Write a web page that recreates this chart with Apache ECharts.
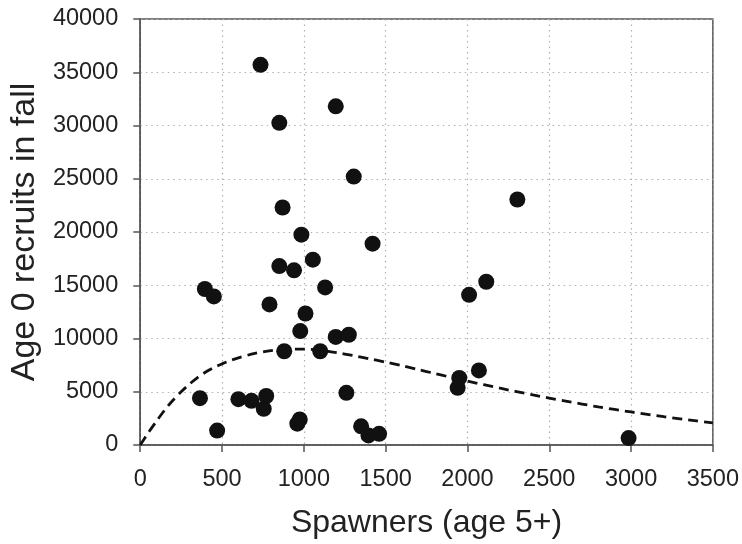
<!DOCTYPE html>
<html>
<head>
<meta charset="utf-8">
<script src="https://cdn.jsdelivr.net/npm/echarts@6/dist/echarts.min.js"></script>
<style>html,body{margin:0;padding:0;background:#fff;}#c{width:742px;height:544px;}</style>
</head>
<body>
<div id="c"></div>
<script>
// Observed data (spawners, recruits)
const spawners = [735, 1195, 850, 1305, 870, 985, 1420, 1055, 850, 940, 395, 450, 1130, 790, 1010, 978, 1195, 1275, 880, 1100, 365, 600, 680, 770, 755, 1260, 470, 975, 960, 1350, 1395, 1460, 2305, 2115, 2010, 2070, 1950, 1940, 2985];
const recruits = [35700, 31800, 30250, 25200, 22300, 19750, 18900, 17400, 16800, 16400, 14650, 13950, 14800, 13200, 12350, 10700, 10150, 10350, 8800, 8800, 4400, 4300, 4150, 4600, 3400, 4900, 1350, 2400, 2000, 1750, 900, 1050, 23050, 15330, 14100, 7000, 6300, 5370, 650];
// Fitted curve
const curveX = [0, 50, 100, 150, 200, 250, 300, 350, 400, 450, 500, 550, 600, 700, 800, 900, 1000, 1100, 1200, 1300, 1400, 1500, 1600, 1700, 1800, 1900, 2000, 2200, 2400, 2600, 2800, 3000, 3200, 3400, 3500];
const curveY = [0, 1170, 2250, 3300, 4200, 5000, 5700, 6330, 6850, 7280, 7620, 7930, 8180, 8600, 8870, 8980, 9000, 8900, 8680, 8400, 8100, 7780, 7450, 7080, 6720, 6350, 6000, 5330, 4700, 4120, 3580, 3100, 2660, 2270, 2080];
const xTicks = [0, 500, 1000, 1500, 2000, 2500, 3000, 3500];
const yTicks = [0, 5000, 10000, 15000, 20000, 25000, 30000, 35000, 40000];

const font = 'Liberation Sans, Arial, sans-serif';
const chart = echarts.init(document.getElementById('c'), null, {renderer: 'canvas'});
chart.setOption({
  animation: false,
  backgroundColor: '#fff',
  grid: {left: 139, right: 27, top: 19, bottom: 95, show: true, borderColor: '#555', borderWidth: 1.5, backgroundColor: 'transparent'},
  xAxis: {
    type: 'value', min: xTicks[0], max: xTicks[xTicks.length - 1], interval: 500,
    name: 'Spawners (age 5+)', nameLocation: 'middle', nameGap: 62,
    nameTextStyle: {fontFamily: font, fontSize: 32, color: '#222'},
    axisLine: {show: true, lineStyle: {color: '#555', width: 1.5}},
    axisTick: {show: true, inside: false, length: 7, lineStyle: {color: '#555', width: 1.5}},
    axisLabel: {fontFamily: font, fontSize: 23.5, color: '#222', margin: 23, formatter: v => String(v)},
    splitLine: {show: true, lineStyle: {color: '#b0b0b0', width: 1.2, type: [1.5, 4]}}
  },
  yAxis: {
    type: 'value', min: yTicks[0], max: yTicks[yTicks.length - 1], interval: 5000,
    name: 'Age 0 recruits in fall', nameLocation: 'middle', nameGap: 76, nameRotate: 90,
    nameTextStyle: {fontFamily: font, fontSize: 34, color: '#222'},
    axisLine: {show: true, lineStyle: {color: '#555', width: 1.5}},
    axisTick: {show: true, inside: false, length: 7, lineStyle: {color: '#555', width: 1.5}},
    axisLabel: {fontFamily: font, fontSize: 23.5, color: '#222', margin: 22, formatter: v => String(v)},
    splitLine: {show: true, lineStyle: {color: '#b0b0b0', width: 1.2, type: [1.5, 4]}}
  },
  series: [
    {
      type: 'line', data: curveX.map((x, i) => [x, curveY[i]]), smooth: 0.3, showSymbol: false,
      lineStyle: {color: '#111', width: 2.8, type: [10, 6]}, z: 2, silent: true
    },
    {
      type: 'scatter', data: spawners.map((x, i) => [x, recruits[i]]), symbol: 'circle', symbolSize: 16,
      itemStyle: {color: '#111', opacity: 1}, z: 3
    }
  ]
});
</script>
</body>
</html>
